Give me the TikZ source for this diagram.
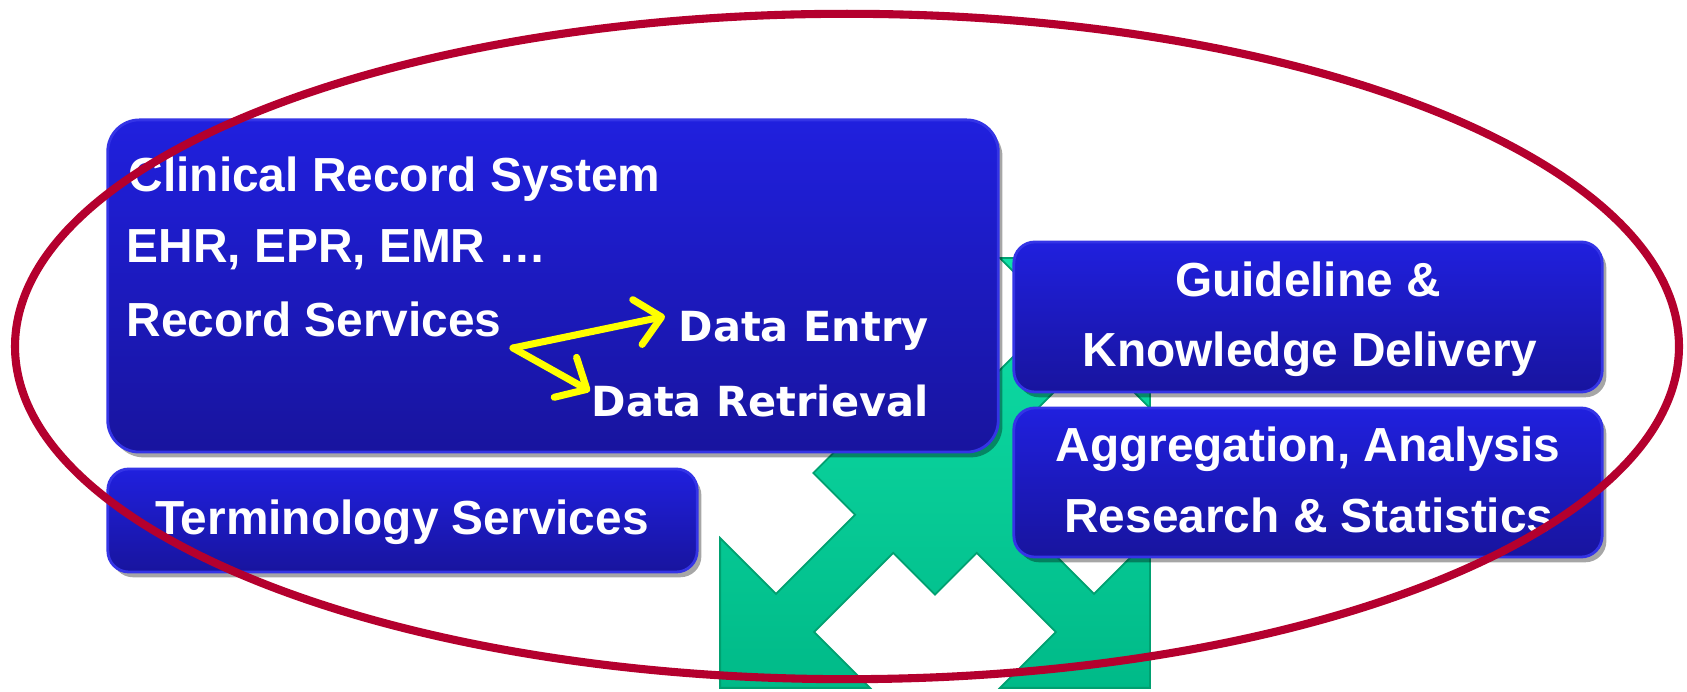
\documentclass[tikz,border=0pt]{standalone}
\usepackage{fontspec}
\setmainfont{Liberation Sans}
\newfontfamily\verd{DejaVu Sans}
\usetikzlibrary{arrows.meta,shadows,calc}
\definecolor{boxtop}{RGB}{32,32,222}
\definecolor{boxbot}{RGB}{24,20,158}
\definecolor{boxrim}{RGB}{52,52,230}
\definecolor{greentop}{RGB}{16,224,168}
\definecolor{greenbot}{RGB}{0,186,136}
\definecolor{arrowedge}{RGB}{0,160,112}
\definecolor{ringred}{RGB}{180,0,46}
\definecolor{datayellow}{RGB}{255,255,0}
\begin{document}
\begin{tikzpicture}[x=0.01cm,y=-0.01cm,
  bluebox/.style={draw=boxrim, line width=0.8pt, top color=boxtop, bottom color=boxbot,
    drop shadow={shadow xshift=1.2pt, shadow yshift=-1.5pt, opacity=0.35, fill=black},
    inner sep=0pt, outer sep=0pt},
  bigbox/.style={bluebox, rounded corners=9pt},
  smallbox/.style={bluebox, rounded corners=6pt},
  lbl/.style={text=white, font=\fontsize{13.6}{16}\selectfont\bfseries, inner sep=0pt},
  dlbl/.style={text=white, font=\verd\fontsize{11.8}{14}\selectfont\bfseries, inner sep=0pt},
  yarrow/.style={draw=datayellow, line width=2pt, line cap=round, line join=round,
    -{Straight Barb[length=7pt, width=13pt, round]}},
  ring/.style={draw=ringred, line width=2.3pt},
  quad/.style={top color=greentop, bottom color=greenbot, draw=arrowedge, line width=0.5pt}]

\useasboundingbox (0,0) rectangle (1687,692);
\fill[white] (0,0) rectangle (1687,692);

% four-way green arrow
\coordinate (ctr) at (935,473);
\begin{scope}[shift={(ctr)}, x={(0.007071cm,-0.007071cm)}, y={(0.007071cm,0.007071cm)}]
  \filldraw[quad] (86,-27) -- (198,-27) -- (198,-106) -- (304,0) -- (198,106) -- (198,27)
    -- (86,27) -- (86,86) -- (27,86) -- (27,198) -- (106,198) -- (0,304) -- (-106,198)
    -- (-27,198) -- (-27,86) -- (-86,86) -- (-86,27) -- (-198,27) -- (-198,106) -- (-304,0)
    -- (-198,-106) -- (-198,-27) -- (-86,-27) -- (-86,-86) -- (-27,-86) -- (-27,-198)
    -- (-106,-198) -- (0,-304) -- (106,-198) -- (27,-198) -- (27,-86) -- (86,-86) -- cycle;
\end{scope}

% boxes
\node[bigbox, minimum width=8.9cm, minimum height=3.32cm] (clin) at (553,286) {};
\node[smallbox, minimum width=5.89cm, minimum height=1.03cm] (termbox) at (402.5,520.5) {};
\node[smallbox, minimum width=5.88cm, minimum height=1.50cm] (guidebox) at (1308,317) {};
\node[smallbox, minimum width=5.88cm, minimum height=1.49cm] (aggbox) at (1308,482.5) {};

% texts
\node[lbl, anchor=base west] (t1) at (128,192) {Clinical Record System};
\node[lbl, anchor=base west] (t2) at (126,263) {EHR, EPR, EMR …};
\node[lbl, anchor=base west] (t3) at (126,337) {Record Services};
\node[dlbl, anchor=base west] (entry) at (678,342) {Data Entry};
\node[dlbl, anchor=base west] (retr) at (591,417) {Data Retrieval};
\node[lbl, anchor=base] (term) at (402,535) {Terminology Services};
\node[lbl, anchor=base] (g1) at (1308,297) {Guideline \&};
\node[lbl, anchor=base] (g2) at (1310,367) {Knowledge Delivery};
\node[lbl, anchor=base] (a1) at (1308,462) {Aggregation, Analysis};
\node[lbl, anchor=base] (a2) at (1309,533) {Research \& Statistics};

% yellow arrows
\coordinate (fork) at (513,348);
\draw[yarrow] (fork) -- ([shift={(-3.7pt,-1.5pt)}]entry.north west);
\draw[yarrow] (fork) -- ([shift={(-0.3pt,-1.8pt)}]retr.north west);

% red ring
\draw[ring] (847,346.5) ellipse [x radius=8.315cm, y radius=3.325cm];
\end{tikzpicture}
\end{document}
